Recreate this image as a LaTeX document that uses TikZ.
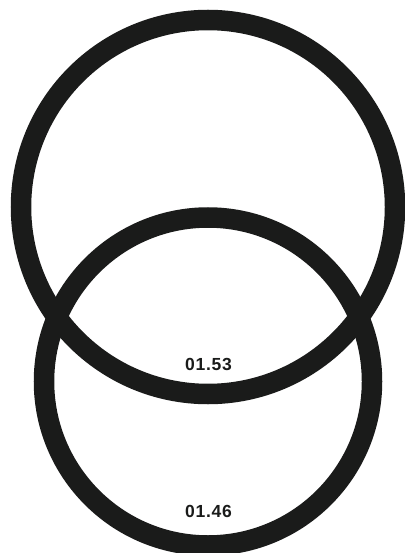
\documentclass[tikz,border=0pt]{standalone}
\usepackage{fontspec}
\setmainfont{Liberation Sans}
\definecolor{ink}{RGB}{26,27,26}
\begin{document}
\begin{tikzpicture}[x=1pt,y=-1pt,
  ring/.style={draw=ink,line width=20.5pt},
  label/.style={text=ink,font=\fontsize{17.5}{19}\selectfont\bfseries\addfontfeature{LetterSpace=4},inner sep=0pt}]
\useasboundingbox (0,0) rectangle (404,553);
\draw[ring] (208,207) circle[radius=187];
\draw[ring] (208,381.5) circle[radius=164];
\node[label] (upper) at (208.5,364) {01.53};
\node[label] (lower) at (208.5,511.5) {01.46};
\end{tikzpicture}
\end{document}
